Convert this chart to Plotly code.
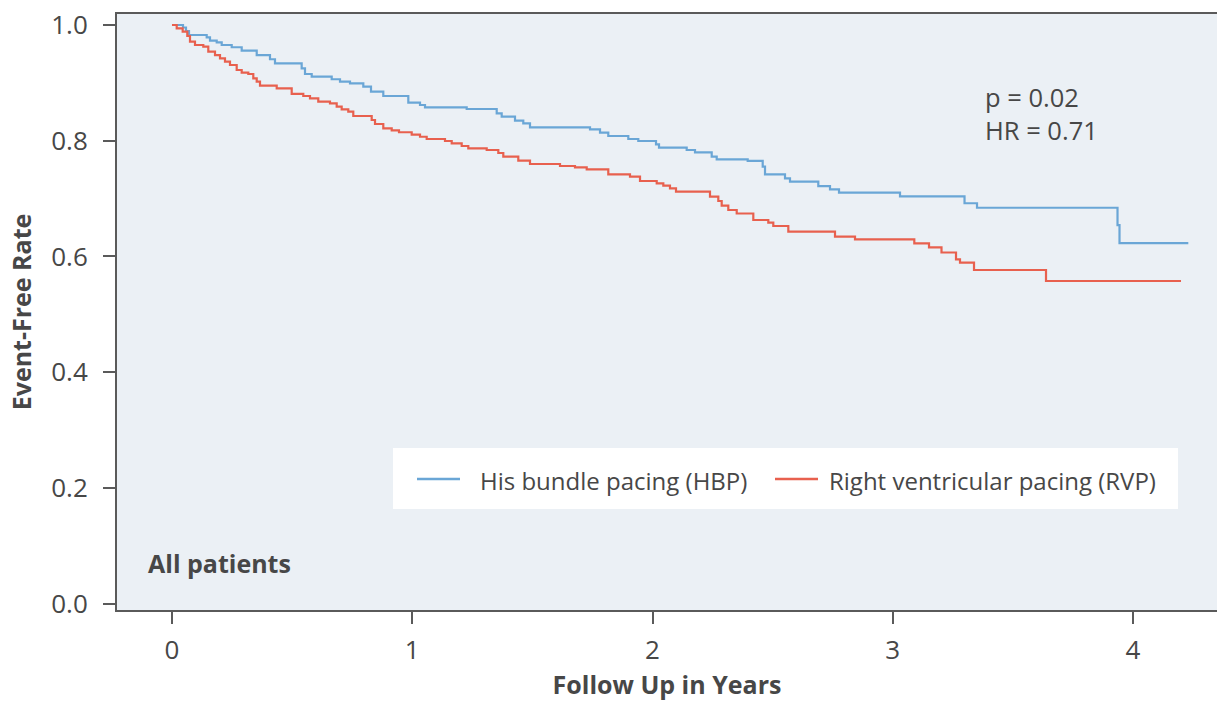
import plotly.graph_objects as go

# Kaplan-Meier step estimates (time in years, event-free proportion)
hbp_time = [0.0, 0.0458, 0.0583, 0.0708, 0.1444, 0.1582, 0.1861, 0.2069, 0.2485, 0.2901,
            0.3526, 0.4079, 0.4287, 0.5398, 0.5536, 0.5815, 0.6647, 0.6993, 0.7409, 0.7963,
            0.8283, 0.8795, 0.9836, 1.0323, 1.0531, 1.2266, 1.3515, 1.3723, 1.4277, 1.4622,
            1.4901, 1.7399, 1.7815, 1.8160, 1.8993, 1.9409, 2.0146, 2.0271, 2.1423, 2.1769,
            2.2464, 2.2672, 2.3962, 2.4587, 2.4683, 2.5515, 2.5723, 2.6901, 2.7388, 2.7763,
            3.0302, 3.2987, 3.3507, 3.9355, 3.9438, 4.2302]
hbp_surv = [1.0, 0.9957, 0.9896, 0.9827, 0.9787, 0.9729, 0.9701, 0.9654, 0.9615, 0.9556,
            0.9481, 0.9408, 0.9338, 0.9252, 0.9153, 0.9107, 0.9062, 0.9020, 0.8992, 0.8934,
            0.8848, 0.8773, 0.8657, 0.8617, 0.8578, 0.8548, 0.8474, 0.8415, 0.8346, 0.8301,
            0.8232, 0.8197, 0.8139, 0.8082, 0.8030, 0.7995, 0.7938, 0.7879, 0.7840, 0.7800,
            0.7724, 0.7679, 0.7650, 0.7551, 0.7420, 0.7350, 0.7292, 0.7217, 0.7160, 0.7102,
            0.7039, 0.6919, 0.6842, 0.6543, 0.6232, 0.6232]

rvp_time = [0.0, 0.0196, 0.0445, 0.0637, 0.0749, 0.0957, 0.1303, 0.1511, 0.1790, 0.1998,
            0.2206, 0.2414, 0.2693, 0.2901, 0.3176, 0.3384, 0.3526, 0.3663, 0.4358, 0.4982,
            0.5465, 0.5744, 0.6089, 0.6576, 0.6855, 0.7063, 0.7338, 0.7546, 0.8312, 0.8450,
            0.8795, 0.9145, 0.9448, 0.9977, 1.0323, 1.0601, 1.1363, 1.1642, 1.2058, 1.2333,
            1.3099, 1.3582, 1.3790, 1.4414, 1.4901, 1.6150, 1.6774, 1.7261, 1.8160, 1.9063,
            1.9480, 2.0175, 2.0450, 2.0728, 2.0978, 2.2393, 2.2739, 2.2880, 2.3155, 2.3505,
            2.4196, 2.4820, 2.5028, 2.5653, 2.7596, 2.8429, 3.0897, 3.1509, 3.2029, 3.2633,
            3.2799, 3.3382, 3.6379, 4.1998]
rvp_surv = [1.0, 0.9943, 0.9884, 0.9810, 0.9712, 0.9654, 0.9625, 0.9539, 0.9481, 0.9424,
            0.9366, 0.9309, 0.9222, 0.9176, 0.9153, 0.9079, 0.9020, 0.8951, 0.8906, 0.8808,
            0.8773, 0.8733, 0.8674, 0.8647, 0.8588, 0.8543, 0.8502, 0.8427, 0.8358, 0.8289,
            0.8215, 0.8180, 0.8146, 0.8104, 0.8069, 0.8030, 0.7995, 0.7955, 0.7909, 0.7869,
            0.7840, 0.7788, 0.7724, 0.7655, 0.7598, 0.7563, 0.7541, 0.7506, 0.7420, 0.7378,
            0.7304, 0.7264, 0.7223, 0.7178, 0.7119, 0.7033, 0.6958, 0.6877, 0.6803, 0.6742,
            0.6630, 0.6583, 0.6526, 0.6428, 0.6341, 0.6296, 0.6227, 0.6158, 0.6068, 0.5951,
            0.5892, 0.5766, 0.5576, 0.5576]

series_names = ["His bundle pacing (HBP)", "Right ventricular pacing (RVP)"]
series_colors = ["#6aa6d6", "#e8604e"]
x_ticks = [0, 1, 2, 3, 4]
y_ticks = [0.0, 0.2, 0.4, 0.6, 0.8, 1.0]
y_tick_labels = ["0.0", "0.2", "0.4", "0.6", "0.8", "1.0"]
stat_lines = ["p = 0.02", "HR = 0.71"]
panel_label = "All patients"

FONT = "Open Sans, Noto Sans, DejaVu Sans, sans-serif"
TEXT = "#474747"
AXIS = "#5a5a5a"

# plot area in pixels (used to place legend box and labels in paper units)
L, R, T, B = 117, 1217, 14, 610


def px(x):
    return (x - L) / (R - L)


def py(y):
    return (B - y) / (B - T)


fig = go.Figure()
fig.add_trace(go.Scatter(x=hbp_time, y=hbp_surv, mode="lines", line_shape="hv",
                         line=dict(color=series_colors[0], width=2.2), name=series_names[0],
                         showlegend=False))
fig.add_trace(go.Scatter(x=rvp_time, y=rvp_surv, mode="lines", line_shape="hv",
                         line=dict(color=series_colors[1], width=2.2), name=series_names[1],
                         showlegend=False))

# legend: white box with line keys and labels
fig.add_shape(type="rect", xref="paper", yref="paper", x0=px(393), x1=px(1178),
              y0=py(509), y1=py(448), fillcolor="white", line_width=0, layer="below")
legend_keys = [(417, 460, 478), (775, 818, 827)]
for (k0, k1, tx), name, color in zip(legend_keys, series_names, series_colors):
    fig.add_shape(type="line", xref="paper", yref="paper", x0=px(k0), x1=px(k1),
                  y0=py(479), y1=py(479), line=dict(color=color, width=2.5))
    fig.add_annotation(xref="paper", yref="paper", x=px(tx), y=py(480), xanchor="left",
                       yanchor="middle", showarrow=False, text=name,
                       font=dict(family=FONT, size=24, color=TEXT))

# test statistics, two lines in one block
fig.add_annotation(xref="paper", yref="paper", x=px(983), y=py(114),
                   xanchor="left", yanchor="middle", align="left", showarrow=False,
                   text="<br>".join(stat_lines), font=dict(family=FONT, size=25.5, color=TEXT))

fig.add_annotation(xref="paper", yref="paper", x=px(146), y=py(563),
                   xanchor="left", yanchor="middle", showarrow=False,
                   text="<b>" + panel_label + "</b>", font=dict(family=FONT, size=25, color=TEXT))

fig.update_layout(
    width=1217, height=701,
    margin=dict(l=L, r=1217 - R, t=T, b=701 - B),
    paper_bgcolor="white", plot_bgcolor="#ebf0f5",
    font=dict(family=FONT, color=TEXT),
    showlegend=False,
    xaxis=dict(range=[-0.2289, 4.3496], tickvals=x_ticks, ticks="outside", ticklen=12,
               tickwidth=2, tickcolor=AXIS, showline=True, linecolor=AXIS, linewidth=2,
               mirror=True, showgrid=False, zeroline=False, ticklabelstandoff=4,
               tickfont=dict(family=FONT, size=26, color=TEXT),
               title=dict(text="<b>Follow Up in Years</b>", standoff=12,
                          font=dict(family=FONT, size=25, color=TEXT))),
    yaxis=dict(range=[-0.011, 1.019], tickvals=y_ticks, ticktext=y_tick_labels,
               ticks="outside", ticklen=12, tickwidth=2, tickcolor=AXIS,
               showline=True, linecolor=AXIS, linewidth=2, showgrid=False, zeroline=False,
               ticklabelstandoff=10,
               tickfont=dict(family=FONT, size=26, color=TEXT),
               title=dict(text="<b>Event-Free Rate</b>", standoff=12,
                          font=dict(family=FONT, size=25, color=TEXT))),
)

fig.write_html("out.html")
